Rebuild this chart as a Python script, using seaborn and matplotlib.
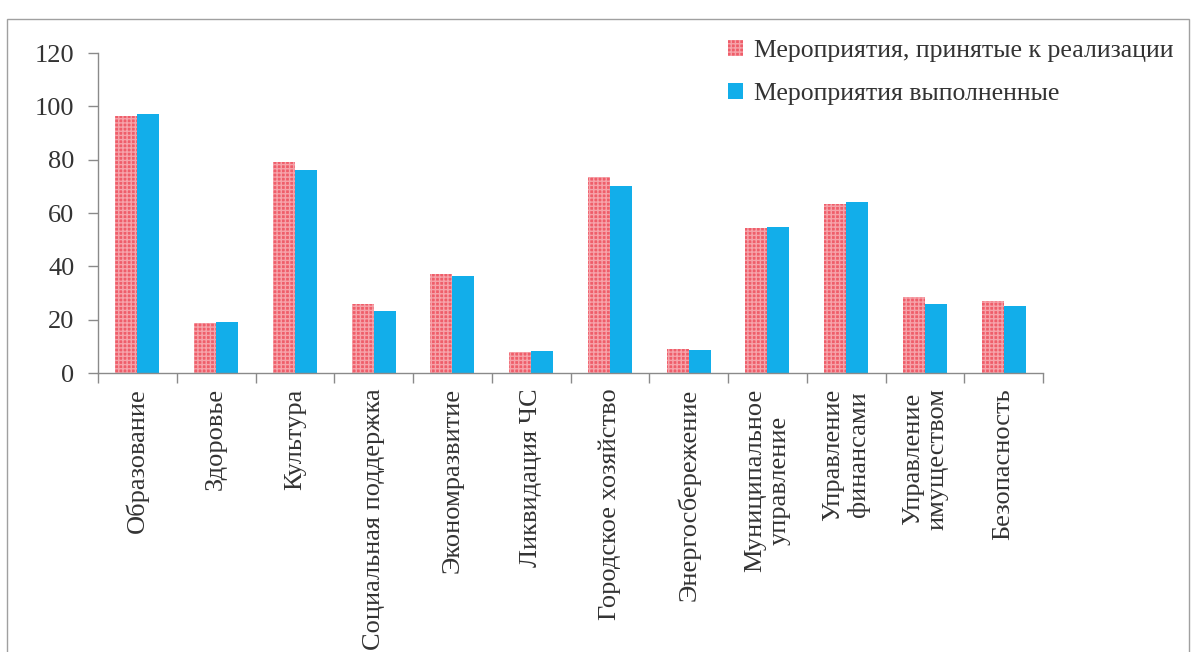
import pandas as pd
import numpy as np
import seaborn as sns
import matplotlib.pyplot as plt
from matplotlib.patches import Patch, Rectangle

categories = ['Образование', 'Здоровье', 'Культура', 'Социальная поддержка',
              'Экономразвитие', 'Ликвидация ЧС', 'Городское хозяйство',
              'Энергосбережение', 'Муниципальное\nуправление',
              'Управление\nфинансами', 'Управление\nимуществом', 'Безопасность']
planned = [96.5, 18.7, 79, 26, 37, 8, 73.5, 9, 54.5, 63.5, 28.5, 27]
done = [97, 19, 76, 23.3, 36.3, 8.3, 70, 8.5, 54.8, 64, 26, 25]
series = ['Мероприятия, принятые к реализации', 'Мероприятия выполненные']

df = pd.DataFrame({
    'cat': categories * 2,
    'series': [series[0]] * len(categories) + [series[1]] * len(categories),
    'value': planned + done,
})

sns.set_style('white')
plt.rcParams['font.family'] = ['Liberation Serif', 'DejaVu Serif']

red = '#EF5E6A'
blue = '#12AEEA'
text_col = '#333333'
line_col = '#8a8a8a'

fig = plt.figure(figsize=(11.96, 6.52), dpi=100)
ax = fig.add_axes([98 / 1196, 1 - 373 / 652, (1043 - 98) / 1196, 320 / 652])

sns.barplot(data=df, x='cat', y='value', hue='series', order=categories,
            palette={series[0]: red, series[1]: blue}, width=0.56,
            saturation=1, ax=ax, legend=False)

# точечная текстура на красных столбцах
for p in ax.containers[0]:
    p.set_hatch('++++')
    p.set_edgecolor('#F6A3AA')
    p.set_linewidth(0)
for p in ax.containers[1]:
    p.set_linewidth(0)

ax.set_ylim(0, 120)
ax.set_xlim(-0.5, len(categories) - 0.5)
ax.set_yticks(range(0, 121, 20))
ax.set_xlabel('')
ax.set_ylabel('')

ax.set_xticks(np.arange(len(categories)))
ax.set_xticklabels(categories, rotation=90, va='top', ha='center',
                   multialignment='center', fontsize=19, color=text_col,
                   linespacing=1.15)
ax.set_xticks(np.arange(-0.5, len(categories)), minor=True)
ax.tick_params(axis='x', which='major', length=0, pad=11)
ax.tick_params(axis='x', which='minor', length=7, width=1, color=line_col,
               direction='out', bottom=True)
ax.tick_params(axis='y', length=7, width=1, color=line_col, direction='out',
               left=True, labelsize=19, labelcolor=text_col, pad=10)

for s in ['top', 'right']:
    ax.spines[s].set_visible(False)
for s in ['left', 'bottom']:
    ax.spines[s].set_color(line_col)
    ax.spines[s].set_linewidth(1)

handles = [Patch(facecolor=red, edgecolor='#F6A3AA', hatch='++++', linewidth=0),
           Patch(facecolor=blue, linewidth=0)]
fig.legend(handles, series, loc='upper left', bbox_to_anchor=(715 / 1196, 1 - 27 / 652),
           frameon=False, fontsize=18.5, labelcolor=text_col, handlelength=0.6,
           handleheight=0.6, handletextpad=0.4, labelspacing=0.8, borderpad=0)

# рамка области диаграммы
fig.add_artist(Rectangle((7 / 1196, -0.1), (1189 - 7) / 1196, 1 - 19 / 652 + 0.1,
                         transform=fig.transFigure, fill=False,
                         edgecolor='#a0a0a0', linewidth=1))

plt.savefig('out.png', dpi=100)
